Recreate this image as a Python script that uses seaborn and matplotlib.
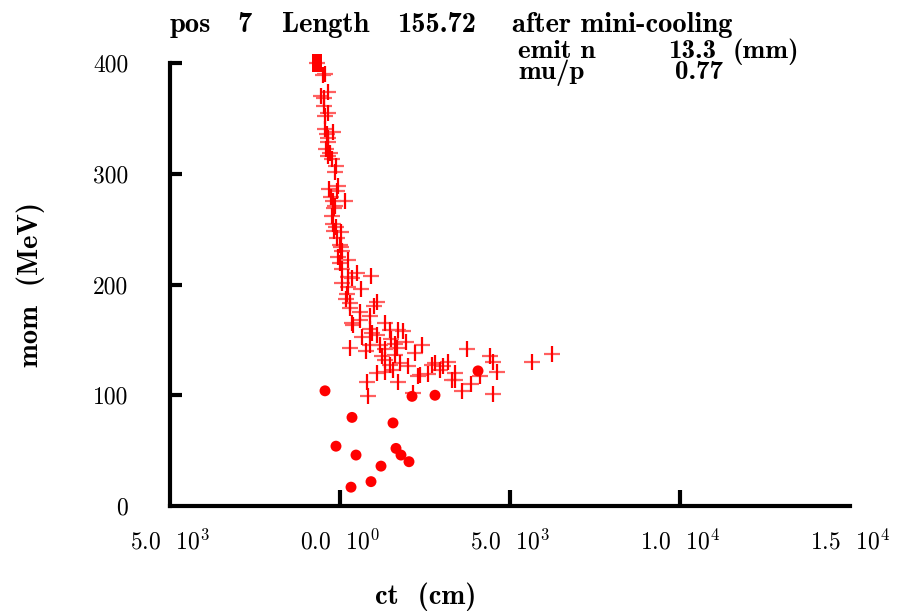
import matplotlib
matplotlib.use("Agg")
import matplotlib.pyplot as plt
import seaborn as sns
import pandas as pd

sns.set_theme(style="white")
plt.rcParams["font.family"] = ["cmr10", "DejaVu Serif"]
plt.rcParams["mathtext.fontset"] = "cm"
plt.rcParams["axes.unicode_minus"] = False

# ---- data (ct in cm, momentum in MeV) ----
ct_cross = [-676, -500, -441, -353, -559, -471, -471, -353, -441, -441, -206, -382, -353, -353,
            -412, -294, -353, -235, -118, -147, -59, -324, -88, -265, 147, -206, -147, -176,
            -235, -206, -118, -176, 29, -88, 0, 29, 59, -59, 235, 0, 59, 500, 912, 235, 353,
            59, 235, 618, 206, 176, 294, 1088, 1000, 294, 588, 882, 588, 353, 1323, 1471, 1706,
            382, 882, 941, 1088, 1500, 294, 765, 882, 2412, 1235, 1323, 1618, 1765, 1471, 2206,
            2000, 2794, 3176, 3735, 4412, 4500, 5647, 6235, 4617, 4117, 3382, 3853, 3588, 3294,
            4500, 2353, 2294, 1706, 794, 824, 2147, 1088, 3029, 647, 1176, 1323, 1618, 1853,
            1941, 1676, 1559, 1323, 2588, 2706, 2941, 3382]
mom_cross = [400, 389, 390, 374, 370, 368, 361, 355, 352, 340, 338, 336, 332, 329,
             322, 319, 316, 313, 307, 302, 289, 286, 284, 279, 275, 275, 271, 269,
             262, 255, 252, 248, 247, 242, 236, 234, 230, 225, 222, 219, 214, 210, 208, 207, 206,
             201, 198, 196, 191, 187, 183, 184, 181, 179, 175, 172, 168, 165, 165, 159, 159,
             163, 160, 156, 154, 151, 143, 140, 145, 145, 135, 132, 136, 129, 127, 138,
             126, 129, 130, 142, 135, 130, 130, 137, 121, 117, 120, 110, 104, 114,
             101, 118, 117, 112, 112, 99, 102, 120, 126, 153, 145, 142, 146, 158,
             148, 143, 123, 121, 119, 127, 123, 114]

ct_dot = [-441, 353, 1559, 2118, 2794, 4059, -118, 471, 1647, 1794, 2029, 1206, 912, 324]
mom_dot = [104, 80, 75, 99, 100, 122, 54, 46, 52, 46, 40, 36, 22, 17]

ct_sq = [-676]
mom_sq = [400]

xticks = [-5000, 0, 5000, 10000, 15000]
xticklabels = [r"5.0  $10^{3}$", r"0.0  $10^{0}$", r"5.0  $10^{3}$", r"1.0  $10^{4}$", r"1.5  $10^{4}$"]
yticks = [0, 100, 200, 300, 400]
yticklabels = ["0", "100", "200", "300", "400"]

df_cross = pd.DataFrame({"ct": ct_cross, "mom": mom_cross})
df_dot = pd.DataFrame({"ct": ct_dot, "mom": mom_dot})
df_sq = pd.DataFrame({"ct": ct_sq, "mom": mom_sq})

fig = plt.figure(figsize=(9.03, 6.11), dpi=100)
ax = fig.add_axes([170 / 903, 1 - 506 / 611, 680 / 903, 443 / 611])

# crosses: horizontal arm lighter, vertical arm solid red
sns.scatterplot(data=df_cross, x="ct", y="mom", marker="_", s=135, color="#ff6060",
                linewidth=1.6, ax=ax, clip_on=False, zorder=3)
sns.scatterplot(data=df_cross, x="ct", y="mom", marker="|", s=135, color="#ff0000",
                linewidth=1.6, ax=ax, clip_on=False, zorder=4)
sns.scatterplot(data=df_dot, x="ct", y="mom", marker="o", s=62, color="#ff0000",
                edgecolor="none", ax=ax, clip_on=False, zorder=5)
rect = [(-0.6, -1.0), (0.6, -1.0), (0.6, 1.0), (-0.6, 1.0), (-0.6, -1.0)]
sns.scatterplot(data=df_sq, x="ct", y="mom", marker=rect, s=170, color="#ff0000",
                edgecolor="none", ax=ax, clip_on=False, zorder=6)

ax.set_xlim(-5000, 15000)
ax.set_ylim(0, 400)
for s in ["top", "right"]:
    ax.spines[s].set_visible(False)
for s in ["left", "bottom"]:
    ax.spines[s].set_linewidth(3.0)
    ax.spines[s].set_color("black")

ax.set_xticks(xticks)
ax.set_xticklabels(xticklabels, fontsize=17)
ax.set_yticks(yticks)
ax.set_yticklabels(yticklabels, fontsize=17)
ax.tick_params(axis="x", bottom=True, direction="in", length=11.5, width=3.0, pad=17,
               color="black", labelcolor="black")
ax.tick_params(axis="y", left=True, direction="in", length=8.6, width=3.0, pad=30,
               color="black", labelcolor="black")
xt = ax.xaxis.get_major_ticks()
xt[0].tick1line.set_visible(False)
xt[-1].tick1line.set_visible(False)
yt = ax.yaxis.get_major_ticks()
yt[0].tick1line.set_visible(False)

ax.set_xlabel("")
ax.set_ylabel("")
bfs = 20.5
fig.text(375 / 903, 1 - 604 / 611, "ct  (cm)", fontsize=bfs, fontfamily="cmb10",
         va="baseline", ha="left", color="black")
fig.text(31 / 903, 1 - 285 / 611, "mom  (MeV)", fontsize=bfs, fontfamily="cmb10",
         va="center", ha="center", rotation=90, color="black")

# header texts
def htxt(x, y, s, size=bfs):
    fig.text(x / 903, 1 - y / 611, s, fontsize=size, fontfamily="cmb10",
             va="baseline", ha="left", color="black")

htxt(170, 32, "pos")
htxt(237, 32, "7")
htxt(282, 32, "Length")
htxt(397, 32, "155.72")
htxt(512, 32, "after mini-cooling")
htxt(518, 58, "emit n", 19.5)
htxt(668, 58, "13.3", 19.5)
htxt(733, 58, "(mm)", 19.5)
htxt(518, 79, "mu/p", 19.5)
htxt(675, 79, "0.77", 19.5)

fig.savefig("out.png", dpi=100, facecolor="white")
